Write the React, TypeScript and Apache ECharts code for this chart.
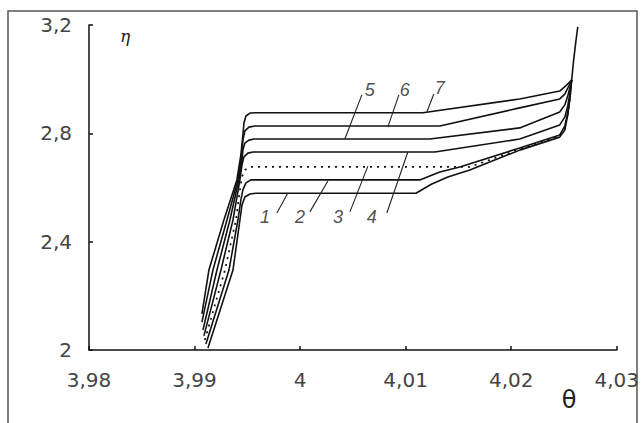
import React, { useEffect, useRef } from "react";
import * as echarts from "echarts";

// ---- Data (θ, η) ----
const curve1: [number, number][] = [
  [3.99127, 2.007], [3.99364, 2.295], [3.9943, 2.48], [3.99449, 2.535], [3.99477, 2.565],
  [3.99525, 2.576], [3.99581, 2.579], [4.01097, 2.579], [4.01248, 2.613], [4.014, 2.639],
  [4.01608, 2.665], [4.02081, 2.738], [4.0246, 2.786], [4.02508, 2.812], [4.02536, 2.868],
  [4.02555, 2.923], [4.02573, 2.997], [4.02592, 3.071], [4.02612, 3.137], [4.02631, 3.193],
];
const curve2: [number, number][] = [
  [3.99108, 2.022], [3.99326, 2.295], [3.99411, 2.48], [3.99439, 2.554], [3.99458, 2.591],
  [3.99487, 2.617], [3.99534, 2.628], [4.01134, 2.628], [4.01324, 2.657], [4.01513, 2.676],
  [4.02081, 2.746], [4.0246, 2.794], [4.02508, 2.827], [4.02536, 2.875], [4.02555, 2.93],
  [4.02573, 2.997],
];
const curve3: [number, number][] = [
  [3.99098, 2.037], [3.99288, 2.295], [3.99392, 2.48], [3.9943, 2.591], [3.99449, 2.639],
  [3.99477, 2.665], [3.99525, 2.676], [4.01608, 2.676], [4.01797, 2.702], [4.02081, 2.742],
  [4.0246, 2.79], [4.02508, 2.823], [4.02536, 2.871], [4.02555, 2.927], [4.02573, 2.997],
];
const curve4: [number, number][] = [
  [3.99089, 2.052], [3.9925, 2.295], [3.99364, 2.48], [3.9943, 2.628], [3.99449, 2.683],
  [3.99468, 2.713], [3.99506, 2.727], [3.99553, 2.731], [4.01277, 2.731], [4.02081, 2.779],
  [4.0246, 2.831], [4.02508, 2.86], [4.02536, 2.901], [4.02555, 2.945], [4.02573, 2.997],
];
const curve5: [number, number][] = [
  [3.9908, 2.074], [3.99212, 2.295], [3.99335, 2.48], [3.9942, 2.628], [3.99449, 2.702],
  [3.99458, 2.738], [3.99477, 2.764], [3.99515, 2.775], [3.99563, 2.779], [4.01229, 2.779],
  [4.02081, 2.82], [4.0246, 2.879], [4.02508, 2.905], [4.02536, 2.938], [4.02555, 2.967],
  [4.02573, 2.997],
];
const curve6: [number, number][] = [
  [3.9907, 2.103], [3.99174, 2.295], [3.99307, 2.48], [3.99411, 2.628], [3.99449, 2.72],
  [3.99458, 2.775], [3.99477, 2.809], [3.99515, 2.823], [3.99572, 2.827], [4.01324, 2.827],
  [4.02081, 2.894], [4.0246, 2.927], [4.02508, 2.945], [4.02536, 2.967], [4.02573, 2.997],
];
const curve7: [number, number][] = [
  [3.9907, 2.133], [3.99136, 2.295], [3.99278, 2.48], [3.99401, 2.628], [3.99439, 2.72],
  [3.99458, 2.794], [3.99468, 2.838], [3.99487, 2.864], [3.99525, 2.875], [3.99581, 2.876],
  [4.01163, 2.876], [4.02081, 2.927], [4.0246, 2.956], [4.02517, 2.975], [4.02573, 2.997],
];
const curves = [curve1, curve2, curve3, curve4, curve5, curve6, curve7];
const curveNames = ["1", "2", "3", "4", "5", "6", "7"];

const labelPos: [number, number][] = [
  [3.99667, 2.491], [3.99998, 2.491], [4.00358, 2.491], [4.0068, 2.491],
  [4.00661, 2.96], [4.00992, 2.96], [4.01324, 2.967],
];
const leaderFrom: [number, number][] = [
  [3.9978, 2.506], [4.00093, 2.51], [4.00472, 2.51], [4.00822, 2.506],
  [4.00585, 2.942], [4.00936, 2.942], [4.01267, 2.945],
];
const leaderTo: [number, number][] = [
  [3.99884, 2.58], [4.00263, 2.624], [4.00642, 2.679], [4.01021, 2.731],
  [4.00424, 2.779], [4.00831, 2.823], [4.01201, 2.879],
];

const xMin = 3.98, xMax = 4.03, xStep = 0.01;
const yMin = 2, yMax = 3.2, yStep = 0.4;

const fmt = (v: number) => String(Number(v.toFixed(2))).replace(".", ",");

export default function App() {
  const ref = useRef<HTMLDivElement>(null);
  useEffect(() => {
    if (!ref.current) return;
    const chart = echarts.init(ref.current, undefined, { renderer: "svg" });
    const series: any[] = [];
    curves.forEach((c, i) => {
      series.push({
        type: "line",
        name: "curve " + curveNames[i],
        data: c,
        showSymbol: false,
        smooth: false,
        lineStyle: {
          color: "#111",
          width: i === 2 ? 1.7 : 1.6,
          type: i === 2 ? [2, 5] : "solid",
        },
        z: 3,
      });
    });
    leaderFrom.forEach((p, i) => {
      series.push({
        type: "line",
        data: [p, leaderTo[i]],
        showSymbol: false,
        lineStyle: { color: "#222", width: 1.1 },
        z: 4,
      });
    });
    series.push({
      type: "scatter",
      symbolSize: 0,
      data: labelPos.map((p, i) => ({ name: curveNames[i], value: p })),
      label: {
        show: true,
        position: "inside",
        formatter: (p: any) => p.name,
        fontFamily: "Liberation Sans",
        fontStyle: "italic",
        fontSize: 18,
        color: "#222",
      },
      z: 5,
    });

    chart.setOption({
      animation: false,
      backgroundColor: "#fff",
      grid: { left: 89, right: 25, top: 25, bottom: 73 },
      xAxis: {
        type: "value",
        min: xMin,
        max: xMax,
        interval: xStep,
        splitLine: { show: false },
        axisLine: { lineStyle: { color: "#111", width: 1.5 } },
        axisTick: { inside: true, length: 4, lineStyle: { color: "#111", width: 1.5 } },
        axisLabel: {
          formatter: fmt,
          fontFamily: "DejaVu Sans",
          fontSize: 20,
          color: "#444",
          margin: 20,
        },
      },
      yAxis: {
        type: "value",
        min: yMin,
        max: yMax,
        interval: yStep,
        splitLine: { show: false },
        axisLine: { show: true, lineStyle: { color: "#111", width: 1.5 } },
        axisTick: { show: true, inside: true, length: 4, lineStyle: { color: "#111", width: 1.5 } },
        axisLabel: {
          formatter: fmt,
          fontFamily: "DejaVu Sans",
          fontSize: 20,
          color: "#444",
          margin: 17,
        },
      },
      graphic: [
        {
          type: "rect",
          shape: { x: 8, y: 11, width: 629, height: 420 },
          style: { fill: "none", stroke: "#555", lineWidth: 1.5 },
          silent: true,
        },
        {
          type: "text",
          x: 569,
          y: 400,
          style: {
            text: "θ",
            font: "24px 'DejaVu Sans'",
            fill: "#222",
            align: "center",
            verticalAlign: "middle",
          },
        },
        {
          type: "text",
          x: 125,
          y: 36,
          style: {
            text: "η",
            font: "italic 17px 'DejaVu Serif'",
            fill: "#222",
            align: "center",
            verticalAlign: "middle",
          },
        },
      ],
      series,
    });
    return () => chart.dispose();
  }, []);
  return (
    <div
      ref={ref}
      style={{ position: "absolute", left: 0, top: 0, width: 642, height: 423, background: "#fff" }}
    />
  );
}
